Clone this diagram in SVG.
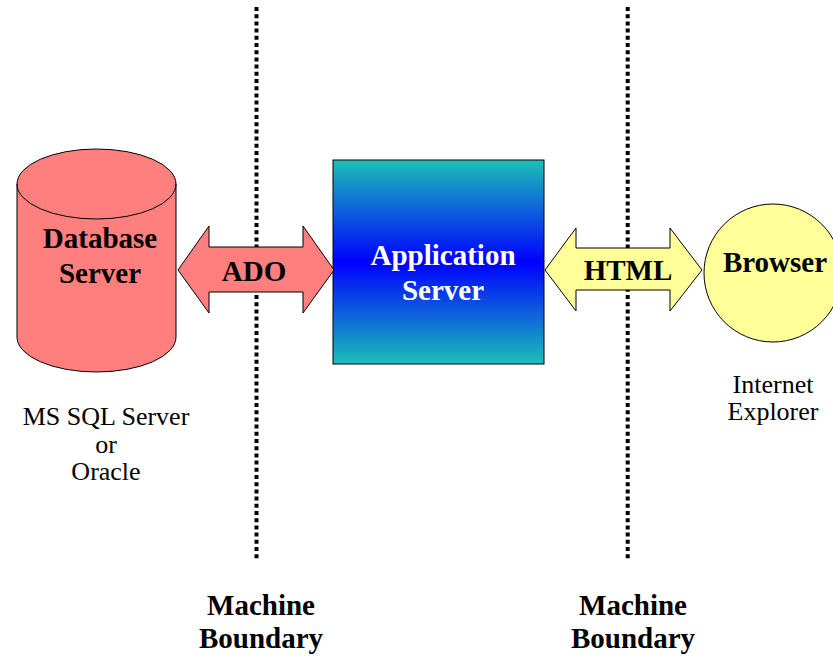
<svg xmlns="http://www.w3.org/2000/svg" width="833" height="656" viewBox="0 0 833 656">
<style>
.bound{stroke:#000;stroke-width:4;stroke-dasharray:4 3.2;fill:none}
.sh{stroke:#000;stroke-width:1}
text{font-family:'Liberation Serif','Times New Roman',Times,serif;text-anchor:middle}
.b{font-weight:bold;font-size:29px}
.r{font-size:26px}
</style>
<defs>
<linearGradient id="g" x1="0" y1="0" x2="0" y2="1">
<stop offset="0" stop-color="#1BC0B8"/>
<stop offset="0.5" stop-color="#0000FF"/>
<stop offset="1" stop-color="#1BC0B8"/>
</linearGradient>
</defs>
<rect width="833" height="656" fill="#fff"/>
<g id="boundaries">
<line class="bound" x1="256.5" y1="7" x2="256.5" y2="559"/>
<line class="bound" x1="627.7" y1="7" x2="627.7" y2="559"/>
</g>
<g id="db">
<path class="sh" fill="#FF7F7F" d="M17,184 L17,337 A79.5,35 0 0 0 176,337 L176,184 A79.5,35 0 0 0 17,184 Z"/>
<path class="sh" fill="none" d="M17,184 A79.5,35 0 0 0 176,184"/>
<text class="b" x="100" y="248">Database</text>
<text class="b" x="100" y="283">Server</text>
</g>
<g id="appserver">
<rect class="sh" x="333" y="160" width="211" height="204" fill="url(#g)"/>
<text class="b" fill="#fff" x="443" y="265">Application</text>
<text class="b" fill="#fff" x="443" y="300">Server</text>
</g>
<g id="browser">
<circle class="sh" cx="773" cy="273" r="69" fill="#FFFF99"/>
<text class="b" x="775" y="272">Browser</text>
</g>
<g id="connectors">
<path class="sh" fill="#FF7F7F" d="M178,270 L209,226 L209,247 L303,247 L303,226 L334,270 L303,313 L303,292 L209,292 L209,313 Z"/>
<path class="sh" fill="#FFFF99" d="M545,270 L576,228 L576,248 L670,248 L670,228 L702,270 L670,311 L670,290 L576,290 L576,311 Z"/>
</g>
<g id="labels">
<text class="b" x="254" y="281">ADO</text>
<text class="b" x="628" y="280">HTML</text>
<text class="b" x="261" y="615">Machine</text>
<text class="b" x="261" y="648">Boundary</text>
<text class="b" x="633" y="615">Machine</text>
<text class="b" x="633" y="648">Boundary</text>
<text class="r" x="106" y="425">MS SQL Server</text>
<text class="r" x="106" y="453">or</text>
<text class="r" x="106" y="480">Oracle</text>
<text class="r" x="773" y="393">Internet</text>
<text class="r" x="773" y="420">Explorer</text>
</g>
</svg>
